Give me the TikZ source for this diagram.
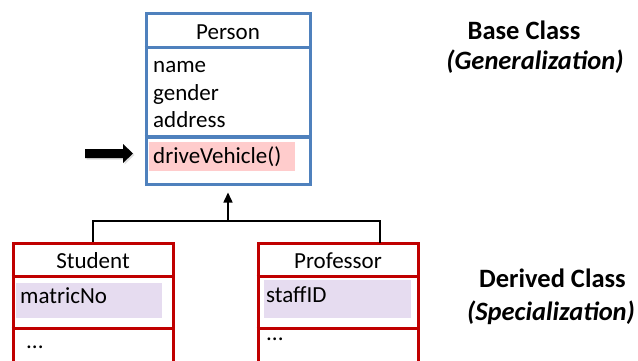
\documentclass[tikz,border=0pt]{standalone}
\usepackage{fontspec}
\setmainfont{Carlito}
\usetikzlibrary{arrows.meta,shadows}
\definecolor{baseBlue}{HTML}{4F81BD}
\definecolor{derivRed}{HTML}{C00000}
\definecolor{methodPink}{HTML}{FFCCCC}
\definecolor{fieldLilac}{HTML}{E6DCF0}
\begin{document}
\begin{tikzpicture}[x=1pt,y=-1pt,
  member/.style={font=\fontsize{23}{27}\selectfont, inner sep=0pt, anchor=base west},
  classname/.style={font=\fontsize{23}{27}\selectfont, inner sep=0pt, anchor=base},
  caption/.style={font=\fontsize{26.5}{31}\selectfont\bfseries, inner sep=0pt, anchor=base},
  basebox/.style={draw=baseBlue, line width=3pt, fill=white, minimum width=164pt,
    drop shadow={opacity=0.25, shadow xshift=2pt, shadow yshift=-2pt}},
  derivbox/.style={draw=derivRed, line width=3pt, fill=white, minimum width=160pt,
    minimum height=127pt,
    drop shadow={opacity=0.2, shadow xshift=2pt, shadow yshift=-2pt}},
  conn/.style={line width=1.5pt, black},
]
\useasboundingbox (0,0) rectangle (638,361);
\clip (0,0) rectangle (638,361);

% ---- base class ----
\node[basebox, minimum height=170pt] (person) at (228,99) {};
\fill[methodPink] (149,142) rectangle (295,171);
\draw[baseBlue, line width=3pt] (person.west |- 0,48) -- (person.east |- 0,48);
\draw[baseBlue, line width=3pt] (person.west |- 0,137) -- (person.east |- 0,137);
\node[classname] (pname) at (228,40) {Person};
\node[member] (aname) at (153,73) {name};
\node[member] (agender) at (153,100) {gender};
\node[member] (aaddress) at (153,128) {address};
\node[member] (mdrive) at (153,163) {driveVehicle()};

% pointer to the overridable method
\fill[black, drop shadow={opacity=0.25, shadow xshift=1.5pt, shadow yshift=-1.5pt}]
  (85,149) -- (123,149) -- (123,144) -- (133,153.5) -- (123,163) -- (123,158) -- (85,158) -- cycle;

% ---- derived classes ----
\node[derivbox] (student) at (93,306.5) {};
\fill[fieldLilac] (16,283) rectangle (162,318);
\draw[derivRed, line width=3pt] (student.west |- 0,276) -- (student.east |- 0,276);
\draw[derivRed, line width=3pt] (student.west |- 0,328) -- (student.east |- 0,328);
\node[classname] (sname) at (93,268) {Student};
\node[member] (smatric) at (20,303) {matricNo};
\node[member] (sdots) at (26,348) {...};

\node[derivbox] (professor) at (338,306.5) {};
\fill[fieldLilac] (264,280) rectangle (411,318);
\draw[derivRed, line width=3pt] (professor.west |- 0,276) -- (professor.east |- 0,276);
\draw[derivRed, line width=3pt] (professor.west |- 0,328) -- (professor.east |- 0,328);
\node[classname] (prname) at (338,268) {Professor};
\node[member] (pstaff) at (266,302) {staffID};
\node[member] (pdots) at (266,340) {...};

% ---- inheritance connector ----
\coordinate (hub) at (228,221);
\coordinate (pjoin) at (380,243);
\draw[conn] (student.north) |- (hub) -| (pjoin);
\draw[conn, -{Triangle[length=10pt, width=9pt]}, shorten >=7pt] (hub) -- (person.south);

% ---- captions ----
\node[caption] (basecap) at (524,40) {Base Class};
\node[caption] (gencap) at (535,70) {\itshape (Generalization)};
\node[caption] (derivcap) at (552.5,287) {Derived Class};
\node[caption] (speccap) at (551,320) {\itshape (Specialization)};
\end{tikzpicture}
\end{document}
